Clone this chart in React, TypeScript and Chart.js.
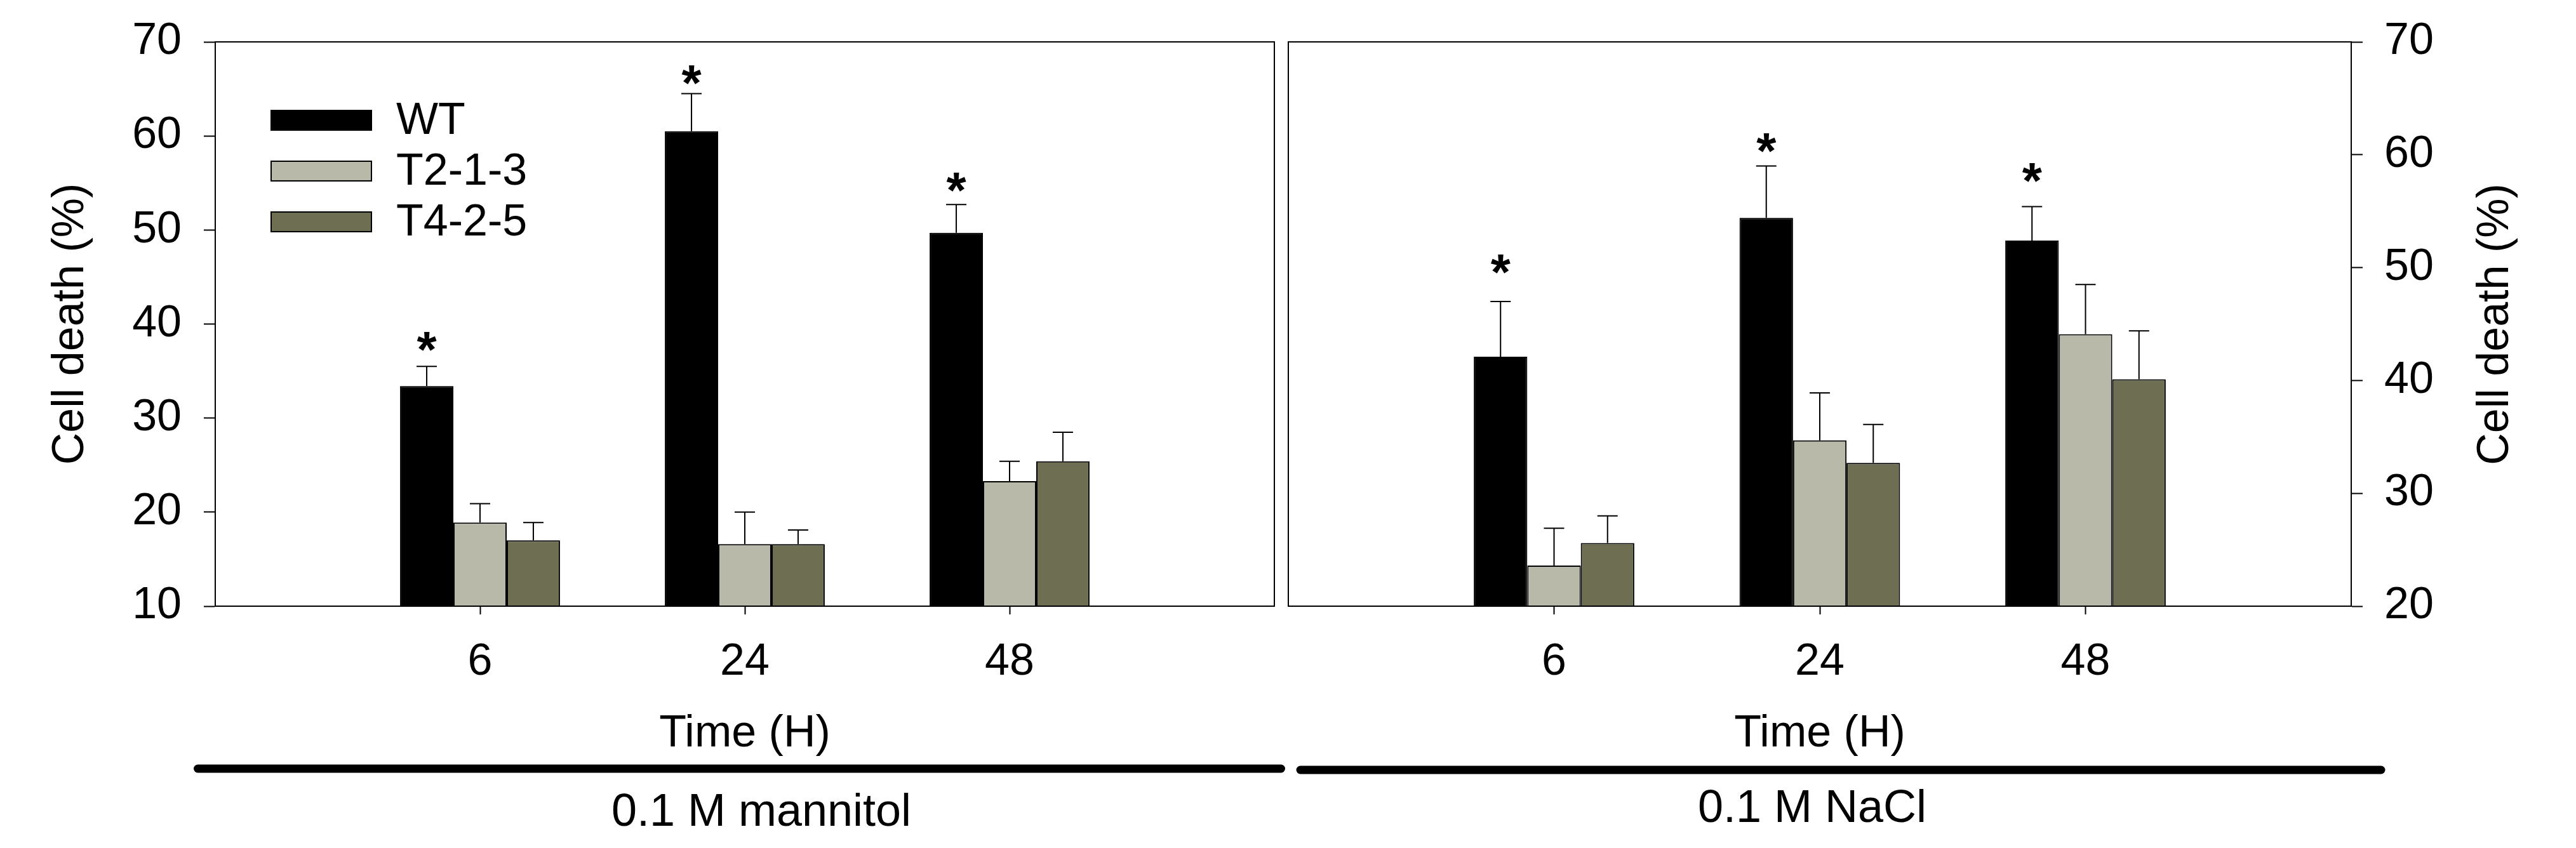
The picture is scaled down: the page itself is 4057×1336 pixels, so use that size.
import React, { useEffect, useRef } from 'react';
import { Chart, registerables } from 'chart.js';

Chart.register(...registerables);

// ---------- data ----------
const timeLabels = ['6', '24', '48'];
const seriesNames = ['WT', 'T2-1-3', 'T4-2-5'];
const seriesColors = ['#000000', '#b8b9a9', '#6e6e53'];

// 0.1 M mannitol (left axis)
const mannitolWT = [33.4, 60.5, 49.7];
const mannitolT213 = [18.9, 16.6, 23.3];
const mannitolT425 = [17.0, 16.6, 25.4];
const mannitolWTErr = [2.1, 4.0, 3.0];
const mannitolT213Err = [2.0, 3.4, 2.1];
const mannitolT425Err = [1.9, 1.5, 3.1];
const mannitolStars = [38.5, 66.8, 55.4];

// 0.1 M NaCl (right axis)
const naclWT = [42.1, 54.4, 52.4];
const naclT213 = [23.6, 34.7, 44.1];
const naclT425 = [25.6, 32.7, 40.1];
const naclWTErr = [4.9, 4.6, 3.0];
const naclT213Err = [3.3, 4.2, 4.4];
const naclT425Err = [2.4, 3.4, 4.3];
const naclStars = [50.6, 61.3, 58.7];

const leftAxisTicks = [10, 20, 30, 40, 50, 60, 70];
const rightAxisTicks = [20, 30, 40, 50, 60, 70];

const yTitle = 'Cell death (%)';
const xTitle = 'Time (H)';
const conditionLeft = '0.1 M mannitol';
const conditionRight = '0.1 M NaCl';

// ---------- styling ----------
const FONT = '"Liberation Sans", Arial, Helvetica, sans-serif';
const FS = 70;
const STAR_FS = 80;

type PanelCfg = {
  offsetX: number;
  width: number;
  yPos: 'left' | 'right';
  ticks: number[];
  values: number[][];
  errors: number[][];
  stars: number[];
  padding: { left: number; right: number; top: number; bottom: number };
  yWidth: number;
  showLegend: boolean;
  line: [number, number, number];
  cond: { text: string; x: number; y: number; size: number };
  rightTitle: { x: number; y: number } | null;
};

function zeroPadding(scale: any) {
  scale.paddingTop = 0;
  scale.paddingBottom = 0;
  scale.paddingLeft = 0;
  scale.paddingRight = 0;
}

function makeChart(canvas: HTMLCanvasElement, cfg: PanelCfg) {
  const labels = ['', ...timeLabels, ''];
  const datasets = cfg.values.map((vals, i) => ({
    label: seriesNames[i],
    data: [null, ...vals, null] as (number | null)[],
    backgroundColor: seriesColors[i],
    borderColor: '#000000',
    borderWidth: 2,
    categoryPercentage: 0.604,
    barPercentage: 1.0,
  }));

  const overlay = {
    id: 'overlay' + cfg.yPos,
    afterDraw(chart: any) {
      const ctx = chart.ctx as CanvasRenderingContext2D;
      const area = chart.chartArea;
      const yScale = chart.scales.y;
      ctx.save();
      // frame
      ctx.strokeStyle = '#000';
      ctx.lineWidth = 2;
      ctx.strokeRect(area.left, area.top, area.right - area.left, area.bottom - area.top);

      // error bars
      ctx.lineWidth = 2;
      cfg.values.forEach((vals, di) => {
        const meta = chart.getDatasetMeta(di);
        vals.forEach((v, j) => {
          const el = meta.data[j + 1];
          if (!el) return;
          const x = el.x;
          const yTop = yScale.getPixelForValue(v);
          const yErr = yScale.getPixelForValue(v + cfg.errors[di][j]);
          ctx.beginPath();
          ctx.moveTo(x, yTop);
          ctx.lineTo(x, yErr);
          ctx.moveTo(x - 16, yErr);
          ctx.lineTo(x + 16, yErr);
          ctx.stroke();
        });
      });

      // significance stars over WT bars
      const wtMeta = chart.getDatasetMeta(0);
      ctx.fillStyle = '#000';
      ctx.font = `bold ${STAR_FS}px ${FONT}`;
      ctx.textAlign = 'center';
      ctx.textBaseline = 'alphabetic';
      cfg.stars.forEach((s, j) => {
        const el = wtMeta.data[j + 1];
        if (!el) return;
        const yc = yScale.getPixelForValue(s);
        ctx.fillText('*', el.x, yc + 0.56 * STAR_FS);
      });

      // legend
      if (cfg.showLegend) {
        ctx.font = `${FS}px ${FONT}`;
        ctx.textAlign = 'left';
        ctx.textBaseline = 'middle';
        seriesNames.forEach((name, i) => {
          const bx = 427;
          const by = 174 + i * 80;
          ctx.fillStyle = seriesColors[i];
          ctx.fillRect(bx, by, 158, 31);
          ctx.strokeStyle = '#000';
          ctx.lineWidth = 2;
          ctx.strokeRect(bx, by, 158, 31);
          ctx.fillStyle = '#000';
          ctx.fillText(name, 624, by + 18);
        });
      }

      // right axis title (reads bottom-to-top)
      if (cfg.rightTitle) {
        ctx.save();
        ctx.translate(cfg.rightTitle.x - cfg.offsetX, cfg.rightTitle.y);
        ctx.rotate(-Math.PI / 2);
        ctx.font = `${FS}px ${FONT}`;
        ctx.fillStyle = '#000';
        ctx.textAlign = 'center';
        ctx.textBaseline = 'middle';
        ctx.fillText(yTitle, 0, 0);
        ctx.restore();
      }

      // thick grouping line
      ctx.strokeStyle = '#000';
      ctx.lineWidth = 13;
      ctx.lineCap = 'round';
      ctx.beginPath();
      ctx.moveTo(cfg.line[0] - cfg.offsetX, cfg.line[2]);
      ctx.lineTo(cfg.line[1] - cfg.offsetX, cfg.line[2]);
      ctx.stroke();

      // condition label
      ctx.font = `${cfg.cond.size}px ${FONT}`;
      ctx.fillStyle = '#000';
      ctx.textAlign = 'center';
      ctx.textBaseline = 'middle';
      ctx.fillText(cfg.cond.text, cfg.cond.x - cfg.offsetX, cfg.cond.y);
      ctx.restore();
    },
  };

  const yMin = cfg.ticks[0];
  const yMax = cfg.ticks[cfg.ticks.length - 1];

  return new Chart(canvas, {
    type: 'bar',
    data: { labels, datasets },
    plugins: [overlay],
    options: {
      animation: false,
      responsive: false,
      maintainAspectRatio: false,
      devicePixelRatio: 1,
      layout: { padding: cfg.padding },
      plugins: {
        legend: { display: false },
        tooltip: { enabled: false },
        title: { display: false },
      },
      scales: {
        x: {
          type: 'category',
          offset: false,
          grid: {
            offset: false,
            drawOnChartArea: false,
            drawTicks: true,
            tickLength: 13,
            tickWidth: 2,
            tickColor: (c: any) => (c.index === 0 || c.index === labels.length - 1 ? 'rgba(0,0,0,0)' : '#000'),
          },
          border: { display: true, color: '#000', width: 2 },
          ticks: {
            color: '#000',
            font: { size: FS, family: FONT },
            padding: 34,
            autoSkip: false,
            maxRotation: 0,
            minRotation: 0,
          },
          title: {
            display: true,
            text: xTitle,
            color: '#000',
            font: { size: FS, family: FONT },
            padding: { top: 0, bottom: 137 },
          },
          afterFit: (scale: any) => {
            scale.height = 381;
            zeroPadding(scale);
          },
        },
        y: {
          type: 'linear',
          position: cfg.yPos,
          min: yMin,
          max: yMax,
          grid: {
            drawOnChartArea: false,
            drawTicks: true,
            tickLength: 18,
            tickWidth: 2,
            tickColor: '#000',
          },
          border: { display: true, color: '#000', width: 2 },
          ticks: {
            stepSize: 10,
            color: '#000',
            font: { size: FS, family: FONT },
            padding: cfg.yPos === 'left' ? 35 : 34,
          },
          title: {
            display: cfg.yPos === 'left',
            text: yTitle,
            color: '#000',
            font: { size: FS, family: FONT },
            padding: { top: 70, bottom: 0 },
          },
          afterFit: (scale: any) => {
            scale.width = cfg.yWidth;
            zeroPadding(scale);
          },
        },
      },
    } as any,
  });
}

const leftCfg: PanelCfg = {
  offsetX: 0,
  width: 2028,
  yPos: 'left',
  ticks: leftAxisTicks,
  values: [mannitolWT, mannitolT213, mannitolT425],
  errors: [mannitolWTErr, mannitolT213Err, mannitolT425Err],
  stars: mannitolStars,
  padding: { left: 0, right: 21, top: 66, bottom: 0 },
  yWidth: 339,
  showLegend: true,
  line: [311.5, 2017.5, 1211],
  cond: { text: conditionLeft, x: 1199, y: 1281, size: 72 },
  rightTitle: null,
};

const rightCfg: PanelCfg = {
  offsetX: 2028,
  width: 2029,
  yPos: 'right',
  ticks: rightAxisTicks,
  values: [naclWT, naclT213, naclT425],
  errors: [naclWTErr, naclT213Err, naclT425Err],
  stars: naclStars,
  padding: { left: 1, right: 0, top: 66, bottom: 0 },
  yWidth: 354,
  showLegend: false,
  line: [2048, 3750, 1213],
  cond: { text: conditionRight, x: 2854, y: 1275, size: 72 },
  rightTitle: { x: 3931, y: 511 },
};

function Panel({ cfg }: { cfg: PanelCfg }) {
  const ref = useRef<HTMLCanvasElement | null>(null);
  useEffect(() => {
    if (!ref.current) return;
    const chart = makeChart(ref.current, cfg);
    return () => chart.destroy();
  }, [cfg]);
  return (
    <canvas
      ref={ref}
      width={cfg.width}
      height={1336}
      style={{ position: 'absolute', left: cfg.offsetX, top: 0, width: cfg.width, height: 1336, display: 'block' }}
    />
  );
}

export default function App() {
  return (
    <div
      style={{
        position: 'absolute',
        left: 0,
        top: 0,
        width: 4057,
        height: 1336,
        background: '#ffffff',
        overflow: 'hidden',
      }}
    >
      <Panel cfg={leftCfg} />
      <Panel cfg={rightCfg} />
    </div>
  );
}
